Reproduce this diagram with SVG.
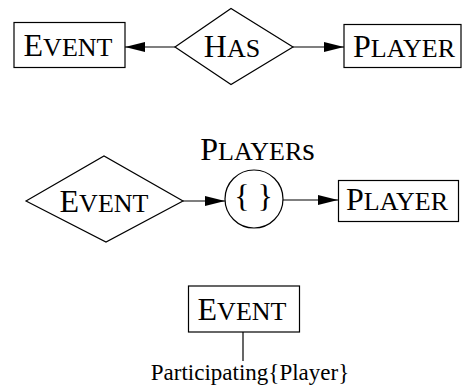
<svg xmlns="http://www.w3.org/2000/svg" width="462" height="392" viewBox="0 0 462 392">
  <style>
    .shape { fill: #fff; stroke: #000; stroke-width: 1.2; }
    .edge { fill: none; stroke: #000; stroke-width: 1.2; }
    .lbl { font-family: "Liberation Serif", "Times New Roman", serif; fill: #000; text-anchor: middle; }
    .big { font-size: 32px; }
    .sc { font-size: 26px; }
    .attr { font-family: "Liberation Serif", "Times New Roman", serif; font-size: 23px; fill: #000; text-anchor: middle; }
  </style>
  <defs>
    <marker id="arrow" markerUnits="userSpaceOnUse" markerWidth="20" markerHeight="10" refX="20" refY="5" orient="auto">
      <path d="M0,0 L20,5 L0,10 z" fill="#000"/>
    </marker>
  </defs>
  <rect width="462" height="392" fill="#fff"/>

  <!-- connectors -->
  <g id="connectors">
    <line class="edge" x1="175" y1="47" x2="125" y2="47" marker-end="url(#arrow)"/>
    <line class="edge" x1="293" y1="47" x2="344" y2="47" marker-end="url(#arrow)"/>
    <line class="edge" x1="183" y1="201" x2="225" y2="201" marker-end="url(#arrow)"/>
    <line class="edge" x1="283" y1="200" x2="338" y2="200" marker-end="url(#arrow)"/>
    <line class="edge" x1="243" y1="332" x2="243" y2="361"/>
  </g>

  <!-- top row: Event <- Has -> Player -->
  <g id="event-top">
    <rect class="shape" x="14" y="22.5" width="111" height="45"/>
    <text class="lbl" x="68" y="56"><tspan class="big">E</tspan><tspan class="sc">VENT</tspan></text>
  </g>
  <g id="has">
    <polygon class="shape" points="175,47 231,8.5 293,47 231,84.5"/>
    <text class="lbl" x="232" y="56.5"><tspan class="big">H</tspan><tspan class="sc">AS</tspan></text>
  </g>
  <g id="player-top">
    <rect class="shape" x="344" y="24.5" width="117" height="43"/>
    <text class="lbl" x="404" y="56.5"><tspan class="big">P</tspan><tspan class="sc">LAYER</tspan></text>
  </g>

  <!-- middle row: Event -> {} Players -> Player -->
  <g id="event-mid">
    <polygon class="shape" points="26,201 104,156 183,201 106,242"/>
    <text class="lbl" x="104" y="211.5"><tspan class="big">E</tspan><tspan class="sc">VENT</tspan></text>
  </g>
  <g id="players-set">
    <circle class="shape" cx="254" cy="199" r="29"/>
    <text class="lbl big" x="253.5" y="207">{ }</text>
    <text class="lbl" x="257.5" y="160"><tspan class="big">P</tspan><tspan class="sc">LAYER</tspan><tspan class="big">s</tspan></text>
  </g>
  <g id="player-mid">
    <rect class="shape" x="338.5" y="180.5" width="120" height="41"/>
    <text class="lbl" x="397" y="209.5"><tspan class="big">P</tspan><tspan class="sc">LAYER</tspan></text>
  </g>

  <!-- bottom: Event with attribute -->
  <g id="event-bottom">
    <rect class="shape" x="188.5" y="286" width="111" height="46"/>
    <text class="lbl" x="242" y="320"><tspan class="big">E</tspan><tspan class="sc">VENT</tspan></text>
  </g>
  <g id="participating">
    <text class="attr" x="250" y="380">Participating{Player}</text>
  </g>
</svg>
